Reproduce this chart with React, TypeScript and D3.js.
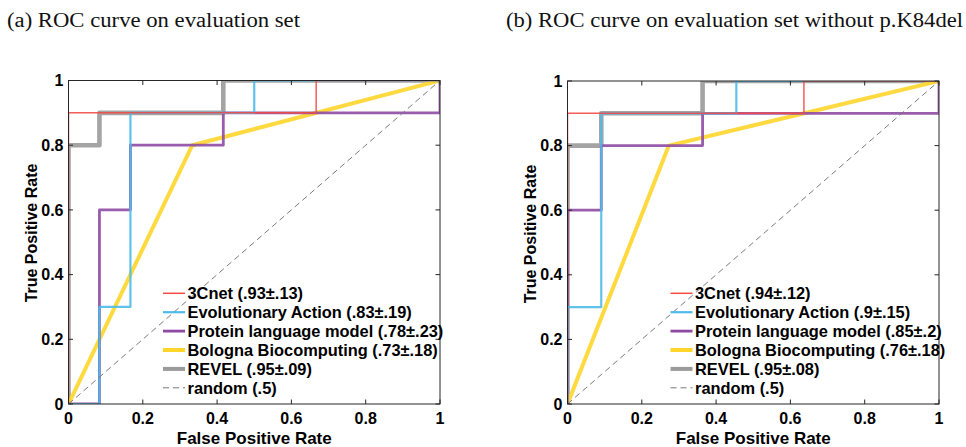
import React from "react";
import * as d3 from "d3";

// ---------- data ----------
const tickValues = [0, 0.2, 0.4, 0.6, 0.8, 1];
const tickLabels = ["0", "0.2", "0.4", "0.6", "0.8", "1"];

const titleA = "(a) ROC curve on evaluation set";
const titleB = "(b) ROC curve on evaluation set without p.K84del";

const labelsA = [
  "3Cnet (.93±.13)",
  "Evolutionary Action (.83±.19)",
  "Protein language model (.78±.23)",
  "Bologna Biocomputing (.73±.18)",
  "REVEL (.95±.09)",
  "random (.5)",
];
const labelsB = [
  "3Cnet (.94±.12)",
  "Evolutionary Action (.9±.15)",
  "Protein language model (.85±.2)",
  "Bologna Biocomputing (.76±.18)",
  "REVEL (.95±.08)",
  "random (.5)",
];

// panel (a): 12 negatives, 10 positives
const cnetA_fpr = [0, 0, 0.6667, 0.6667, 1];
const cnetA_tpr = [0, 0.9, 0.9, 1, 1];
const eaA_fpr = [0, 0.0833, 0.0833, 0.1667, 0.1667, 0.5, 0.5, 1];
const eaA_tpr = [0, 0, 0.3, 0.3, 0.9, 0.9, 1, 1];
const plmA_fpr = [0, 0.0833, 0.0833, 0.1667, 0.1667, 0.4167, 0.4167, 1, 1];
const plmA_tpr = [0, 0, 0.6, 0.6, 0.8, 0.8, 0.9, 0.9, 1];
const bbA_fpr = [0, 0.3333, 1];
const bbA_tpr = [0, 0.8, 1];
const revelA_fpr = [0, 0, 0.0833, 0.0833, 0.4167, 0.4167, 1];
const revelA_tpr = [0, 0.8, 0.8, 0.9, 0.9, 1, 1];

// panel (b): 11 negatives, 10 positives
const cnetB_fpr = [0, 0, 0.6364, 0.6364, 1];
const cnetB_tpr = [0, 0.9, 0.9, 1, 1];
const eaB_fpr = [0, 0, 0.0909, 0.0909, 0.4545, 0.4545, 1];
const eaB_tpr = [0, 0.3, 0.3, 0.9, 0.9, 1, 1];
const plmB_fpr = [0, 0, 0.0909, 0.0909, 0.3636, 0.3636, 1, 1];
const plmB_tpr = [0, 0.6, 0.6, 0.8, 0.8, 0.9, 0.9, 1];
const bbB_fpr = [0, 0.2727, 1];
const bbB_tpr = [0, 0.8, 1];
const revelB_fpr = [0, 0, 0.0909, 0.0909, 0.3636, 0.3636, 1];
const revelB_tpr = [0, 0.8, 0.8, 0.9, 0.9, 1, 1];

const random_fpr = [0, 1];
const random_tpr = [0, 1];

// ---------- styles ----------
const colors = ["#f24a45", "#4cbbea", "#8f4aa3", "#fed52b", "#9a9a9a", "#7a7a7a"];
const widths = [1.5, 2.2, 2.8, 4, 4.6, 1];
const drawOrder = [4, 3, 2, 1, 0, 5];

type Series = { fpr: number[]; tpr: number[] };

const seriesA: Series[] = [
  { fpr: cnetA_fpr, tpr: cnetA_tpr },
  { fpr: eaA_fpr, tpr: eaA_tpr },
  { fpr: plmA_fpr, tpr: plmA_tpr },
  { fpr: bbA_fpr, tpr: bbA_tpr },
  { fpr: revelA_fpr, tpr: revelA_tpr },
  { fpr: random_fpr, tpr: random_tpr },
];
const seriesB: Series[] = [
  { fpr: cnetB_fpr, tpr: cnetB_tpr },
  { fpr: eaB_fpr, tpr: eaB_tpr },
  { fpr: plmB_fpr, tpr: plmB_tpr },
  { fpr: bbB_fpr, tpr: bbB_tpr },
  { fpr: revelB_fpr, tpr: revelB_tpr },
  { fpr: random_fpr, tpr: random_tpr },
];

const SANS = "'Liberation Sans', Arial, Helvetica, sans-serif";
const SERIF = "'Liberation Serif', 'DejaVu Serif', serif";
const AXC = "#262626";

type PanelProps = {
  id: string;
  x0: number;
  x1: number;
  y0: number;
  y1: number;
  series: Series[];
  labels: string[];
  legendX: number;
  yLabelX: number;
  yLabelY: number;
};

function Panel({ id, x0, x1, y0, y1, series, labels, legendX, yLabelX, yLabelY }: PanelProps) {
  const xs = d3.scaleLinear().domain([0, 1]).range([x0, x1]);
  const ys = d3.scaleLinear().domain([0, 1]).range([y0, y1]);
  const line = d3
    .line<[number, number]>()
    .x((d) => xs(d[0]))
    .y((d) => ys(d[1]));
  const tickLen = 4.5;
  const legendRows = [293.3, 312.2, 331.1, 350, 368.9, 387.8];

  return (
    <g>
      <defs>
        <clipPath id={id}>
          <rect x={x0} y={y1} width={x1 - x0} height={y0 - y1} />
        </clipPath>
      </defs>
      <rect x={x0} y={y1} width={x1 - x0} height={y0 - y1} fill="#fff" />
      {/* series */}
      <g clipPath={`url(#${id})`}>
        {drawOrder.map((i) => {
          const s = series[i];
          const pts = s.fpr.map((f, k) => [f, s.tpr[k]] as [number, number]);
          return (
            <path
              key={i}
              d={line(pts) || ""}
              fill="none"
              stroke={colors[i]}
              strokeWidth={widths[i]}
              strokeOpacity={i === 5 ? 1 : 0.9}
              strokeDasharray={i === 5 ? "6,4" : undefined}
              strokeLinejoin="round"
            />
          );
        })}
      </g>
      {/* axes box */}
      <rect x={x0} y={y1} width={x1 - x0} height={y0 - y1} fill="none" stroke={AXC} strokeWidth={1} />
      {tickValues.map((t, i) => (
        <g key={"t" + i}>
          <line x1={xs(t)} x2={xs(t)} y1={y0} y2={y0 - tickLen} stroke={AXC} />
          <line x1={xs(t)} x2={xs(t)} y1={y1} y2={y1 + tickLen} stroke={AXC} />
          <line x1={x0} x2={x0 + tickLen} y1={ys(t)} y2={ys(t)} stroke={AXC} />
          <line x1={x1} x2={x1 - tickLen} y1={ys(t)} y2={ys(t)} stroke={AXC} />
          <text
            x={xs(t)}
            y={423.8}
            textAnchor="middle"
            fontFamily={SANS}
            fontWeight="bold"
            fontSize={16}
            fill="#000"
          >
            {tickLabels[i]}
          </text>
          <text
            x={x0 - 5}
            y={ys(t) + 5.6}
            textAnchor="end"
            fontFamily={SANS}
            fontWeight="bold"
            fontSize={16}
            fill="#000"
          >
            {tickLabels[i]}
          </text>
        </g>
      ))}
      <text
        x={(x0 + x1) / 2}
        y={444}
        textAnchor="middle"
        fontFamily={SANS}
        fontWeight="bold"
        fontSize={17}
        fill="#000"
      >
        False Positive Rate
      </text>
      <text
        transform={`translate(${yLabelX},${yLabelY}) rotate(-90)`}
        textAnchor="middle"
        fontFamily={SANS}
        fontWeight="bold"
        fontSize={16}
        fill="#000"
      >
        True Positive Rate
      </text>
      {/* legend */}
      {labels.map((lab, i) => (
        <g key={"l" + i}>
          <line
            x1={legendX}
            x2={legendX + 22}
            y1={legendRows[i]}
            y2={legendRows[i]}
            stroke={colors[i]}
            strokeWidth={Math.min(widths[i], 4)}
            strokeDasharray={i === 5 ? "6,4" : undefined}
          />
          <text
            x={legendX + 24.5}
            y={legendRows[i] + 5.8}
            fontFamily={SANS}
            fontWeight="bold"
            fontSize={16.4}
            fill="#000"
          >
            {lab}
          </text>
        </g>
      ))}
    </g>
  );
}

export default function App() {
  return (
    <svg
      width={966}
      height={447}
      viewBox="0 0 966 447"
      style={{ position: "absolute", left: 0, top: 0, background: "#fff" }}
    >
      <rect x={0} y={0} width={966} height={447} fill="#fff" />
      <text
        x={7}
        y={26.5}
        fontFamily={SERIF}
        fontSize={20}
        textLength={293}
        lengthAdjust="spacingAndGlyphs"
        fill="#111"
      >
        {titleA}
      </text>
      <text
        x={506}
        y={26.5}
        fontFamily={SERIF}
        fontSize={20}
        textLength={457}
        lengthAdjust="spacingAndGlyphs"
        fill="#111"
      >
        {titleB}
      </text>
      <Panel
        id="clipA"
        x0={68.5}
        x1={440}
        y0={404}
        y1={80.5}
        series={seriesA}
        labels={labelsA}
        legendX={163}
        yLabelX={37}
        yLabelY={233}
      />
      <Panel
        id="clipB"
        x0={567.5}
        x1={939}
        y0={404}
        y1={81}
        series={seriesB}
        labels={labelsB}
        legendX={670.5}
        yLabelX={536}
        yLabelY={234}
      />
    </svg>
  );
}
